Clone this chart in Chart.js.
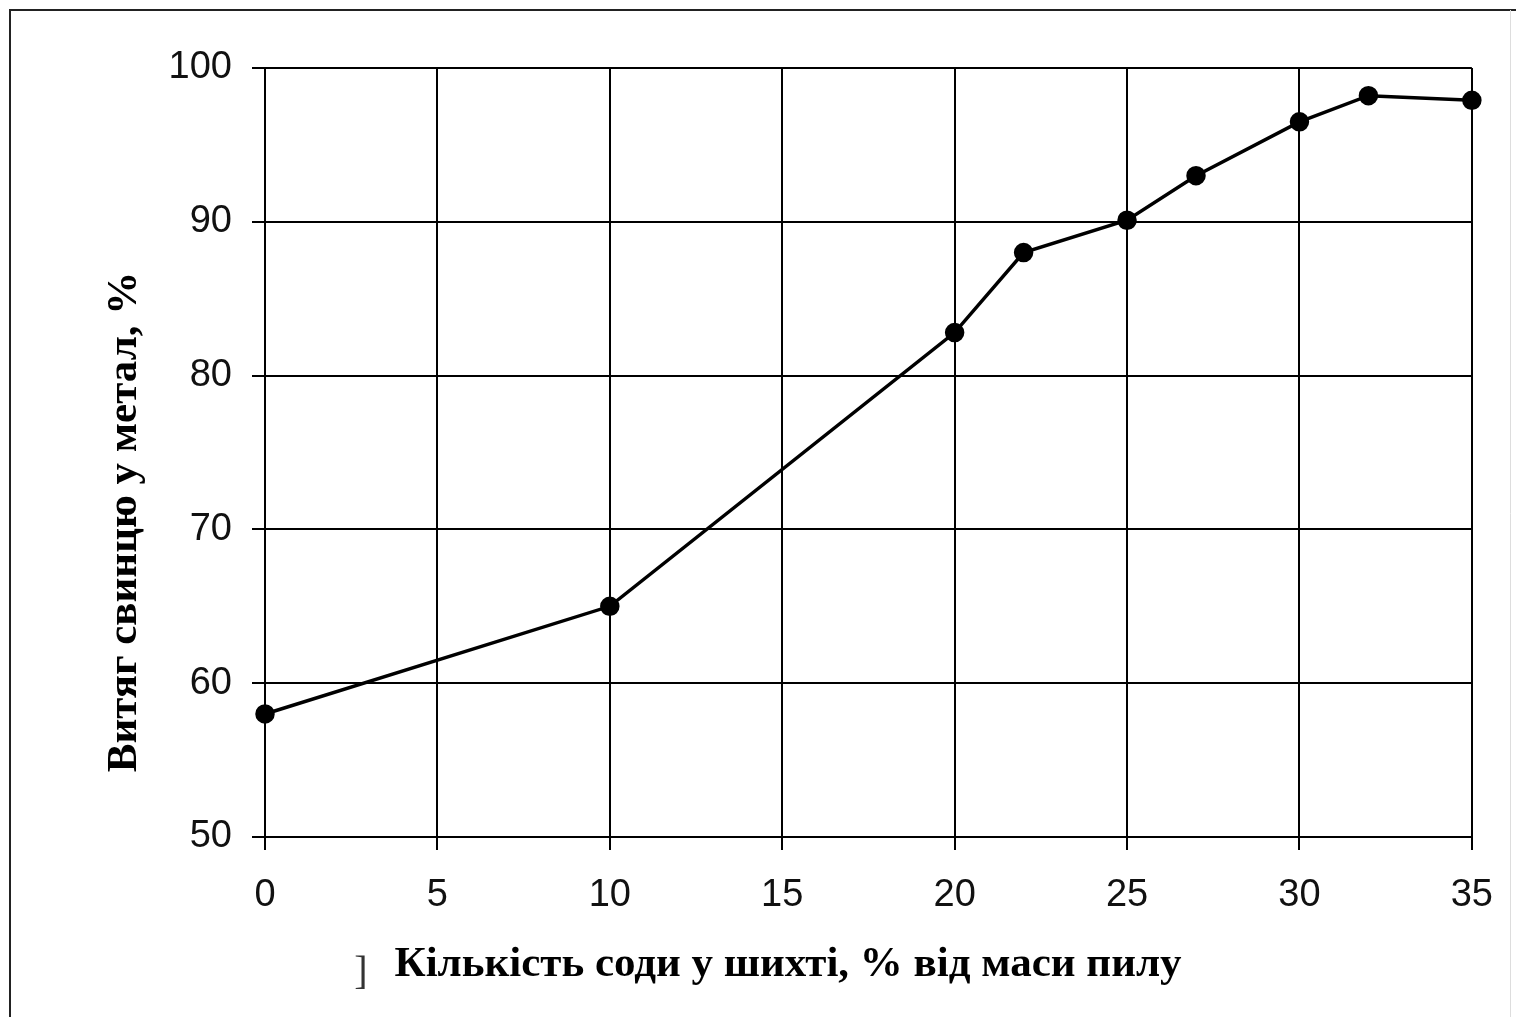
<!DOCTYPE html>
<html>
<head>
<meta charset="utf-8">
<script src="https://cdn.jsdelivr.net/npm/chart.js@4"></script>
<style>
  html, body { margin: 0; padding: 0; background: #fff; }
  #wrap { width: 1516px; height: 1017px; position: relative; }
</style>
</head>
<body>
<div id="wrap"><canvas id="chart"></canvas></div>
<script>
// soda content, % of dust mass
var sodaX = [0, 10, 20, 22, 25, 27, 30, 32, 35];
// lead recovery to metal, %
var leadY = [58, 65, 82.8, 88, 90.1, 93, 96.5, 98.2, 97.9];
var xTicks = [0, 5, 10, 15, 20, 25, 30, 35];
var yTicks = [50, 60, 70, 80, 90, 100];
var yTitle = "Витяг свинцю у метал, %";
var xTitle = "Кількість соди у шихті, % від маси пилу";

var points = sodaX.map(function (x, i) { return { x: x, y: leadY[i] }; });

var frameAndTitles = {
  id: "frameAndTitles",
  afterDraw: function (chart) {
    var c = chart.ctx;
    c.save();
    // outer frame (left, top, faint right)
    c.strokeStyle = "#222";
    c.lineWidth = 2;
    c.beginPath();
    c.moveTo(10, 1017);
    c.lineTo(10, 10);
    c.lineTo(1516, 10);
    c.stroke();
    c.strokeStyle = "#ddd";
    c.lineWidth = 1;
    c.beginPath();
    c.moveTo(1510.5, 10);
    c.lineTo(1510.5, 1017);
    c.stroke();

    c.fillStyle = "#000";
    c.font = "bold 43px 'Liberation Serif', 'Times New Roman', serif";
    c.textBaseline = "alphabetic";
    c.textAlign = "center";
    c.fillText(xTitle, 788, 976);

    // stray bracket left of the axis title
    c.font = "40px 'Liberation Serif', serif";
    c.fillStyle = "#333";
    c.fillText("]", 361, 984);

    c.fillStyle = "#000";
    c.font = "bold 43px 'Liberation Serif', 'Times New Roman', serif";
    c.translate(136, 522);
    c.rotate(-Math.PI / 2);
    c.fillText(yTitle, 0, 0);
    c.restore();
  }
};

new Chart(document.getElementById("chart").getContext("2d"), {
  type: "scatter",
  data: {
    datasets: [{
      data: points,
      showLine: true,
      clip: false,
      borderColor: "#000",
      borderWidth: 3.5,
      backgroundColor: "#000",
      pointRadius: 8,
      pointHoverRadius: 8,
      tension: 0
    }]
  },
  options: {
    responsive: true,
    maintainAspectRatio: false,
    animation: false,
    layout: { padding: { left: 0, right: 44, top: 68, bottom: 0 } },
    plugins: { legend: { display: false }, tooltip: { enabled: false } },
    scales: {
      x: {
        type: "linear",
        min: 0,
        max: 35,
        afterBuildTicks: function (s) { s.ticks = xTicks.map(function (v) { return { value: v }; }); },
        afterFit: function (s) { s.height = 180; },
        grid: { color: "#000", lineWidth: 2, tickLength: 13, drawTicks: true },
        border: { color: "#000", width: 2 },
        ticks: {
          color: "#111",
          padding: 23,
          maxRotation: 0,
          font: { family: "'Liberation Sans', Arial, sans-serif", size: 38 }
        }
      },
      y: {
        min: 50,
        max: 100,
        afterBuildTicks: function (s) { s.ticks = yTicks.map(function (v) { return { value: v }; }); },
        afterFit: function (s) { s.width = 265; },
        grid: { color: "#000", lineWidth: 2, tickLength: 13, drawTicks: true },
        border: { color: "#000", width: 2 },
        ticks: {
          color: "#111",
          padding: 20,
          font: { family: "'Liberation Sans', Arial, sans-serif", size: 38 }
        }
      }
    }
  },
  plugins: [frameAndTitles]
});
</script>
</body>
</html>
